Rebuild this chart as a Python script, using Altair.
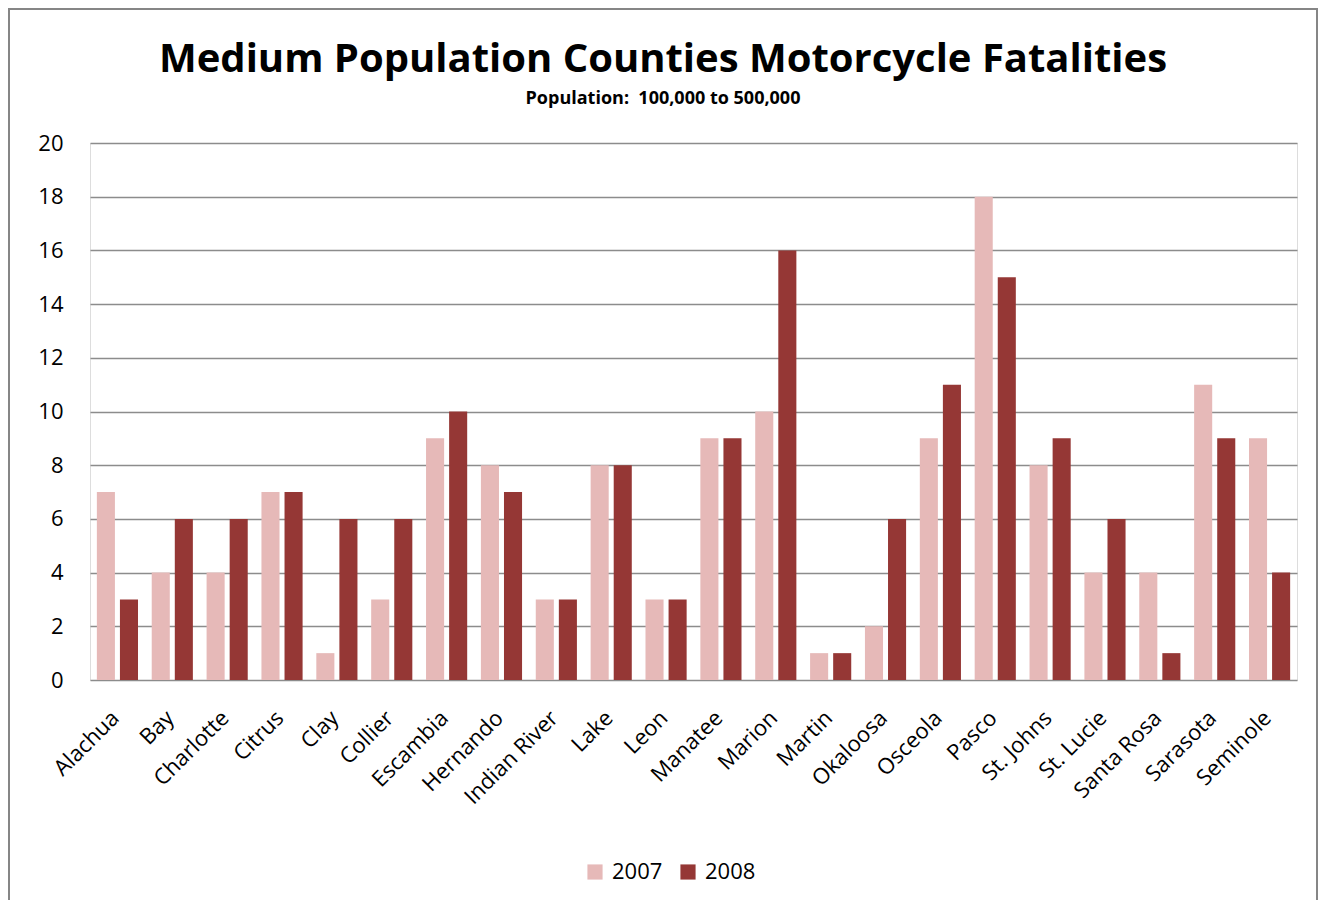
import altair as alt
import pandas as pd

counties = ["Alachua", "Bay", "Charlotte", "Citrus", "Clay", "Collier", "Escambia",
            "Hernando", "Indian River", "Lake", "Leon", "Manatee", "Marion", "Martin",
            "Okaloosa", "Osceola", "Pasco", "St. Johns", "St. Lucie", "Santa Rosa",
            "Sarasota", "Seminole"]
v2007 = [7, 4, 4, 7, 1, 3, 9, 8, 3, 8, 3, 9, 10, 1, 2, 9, 18, 8, 4, 4, 11, 9]
v2008 = [3, 6, 6, 7, 6, 6, 10, 7, 3, 8, 3, 9, 16, 1, 6, 11, 15, 9, 6, 1, 9, 4]
years = ["2007", "2008"]
colors = ["#E6B9B8", "#953735"]

rows = []
for c, a, b in zip(counties, v2007, v2008):
    rows.append({"County": c, "Year": "2007", "Fatalities": a})
    rows.append({"County": c, "Year": "2008", "Fatalities": b})
df = pd.DataFrame(rows)

FONT = "Open Sans"

bars = alt.Chart(df).mark_bar().encode(
    x=alt.X("County:N", sort=counties, title=None,
            scale=alt.Scale(paddingInner=0.25, paddingOuter=0.125),
            axis=alt.Axis(labelAngle=-45, labelFontSize=22, labelFont=FONT,
                          labelColor="#000000", ticks=False, domain=False,
                          labelPadding=27, labelOffset=-9)),
    xOffset=alt.XOffset("Year:N", scale=alt.Scale(paddingInner=0.217)),
    y=alt.Y("Fatalities:Q", title=None,
            scale=alt.Scale(domain=[0, 20]),
            axis=alt.Axis(values=list(range(0, 21, 2)), labelFontSize=22,
                          labelFont=FONT, labelColor="#000000", ticks=False,
                          domain=False, labelPadding=27, gridColor="#8C8C8C",
                          gridWidth=1.5, gridOpacity=1)),
    color=alt.Color("Year:N", scale=alt.Scale(domain=years, range=colors),
                    legend=alt.Legend(title=None, orient="none", direction="horizontal",
                                      legendX=494, legendY=718, symbolType="square",
                                      symbolSize=230, symbolStrokeWidth=0,
                                      labelFontSize=22, labelFont=FONT,
                                      labelColor="#000000", columnPadding=14,
                                      labelOffset=6, symbolOpacity=1)),
)

frame_df = pd.DataFrame({"b": [0]})
BORDER = dict(color="#868686", strokeWidth=2, clip=False)
left_edge = alt.Chart(frame_df).mark_rule(**BORDER).encode(
    x=alt.value(-81), y=alt.value(-134), y2=alt.value(760))
top_edge = alt.Chart(frame_df).mark_rule(**BORDER).encode(
    x=alt.value(-82), x2=alt.value(1228), y=alt.value(-134))
right_edge = alt.Chart(frame_df).mark_rule(**BORDER).encode(
    x=alt.value(1227), y=alt.value(-134), y2=alt.value(760))

chart = alt.layer(left_edge, top_edge, right_edge, bars).properties(
    width=1207,
    height=537,
    autosize=alt.AutoSizeParams(type="none"),
    padding={"left": 82, "top": 135, "right": 21, "bottom": 220},
    title=alt.TitleParams(
        text="Medium Population Counties Motorcycle Fatalities",
        subtitle="Population:\u00a0 100,000 to 500,000",
        font=FONT, fontSize=40, fontWeight="bold", color="#000000",
        subtitleFont=FONT, subtitleFontSize=18, subtitleFontWeight="bold",
        subtitleColor="#000000", anchor="middle", frame="bounds",
        offset=-100, subtitlePadding=10,
    ),
).configure_view(stroke=None).configure(background="white")

chart.save("out.html", embed_options={"renderer": "svg", "actions": False})
